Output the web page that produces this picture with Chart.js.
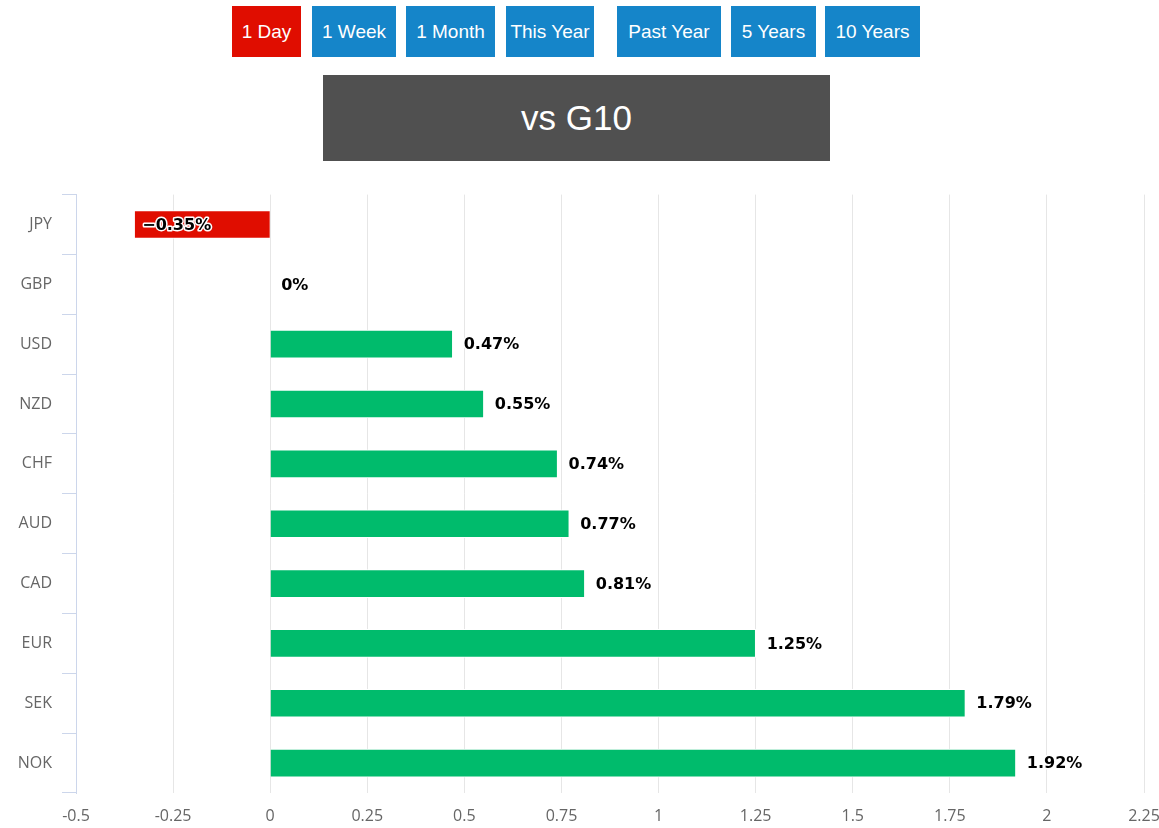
<!DOCTYPE html>
<html>
<head>
<meta charset="utf-8">
<script src="https://cdn.jsdelivr.net/npm/chart.js@4"></script>
<style>
  body { margin: 0; background: #fff; width: 1159px; height: 828px; overflow: hidden; position: relative; }
  .btn { position: absolute; top: 6px; height: 51px; line-height: 51px; color: #fff; background: #1585c9;
         font-family: "Liberation Sans", Arial, sans-serif; font-size: 19px; text-align: center; }
  .btn.on { background: #e00d00; }
  #title { position: absolute; left: 323px; top: 75px; width: 507px; height: 86px; line-height: 86px;
           background: #505050; color: #fff; text-align: center;
           font-family: "Liberation Sans", Arial, sans-serif; font-size: 35px; }
  #wrap { position: absolute; left: 0; top: 175px; width: 1159px; height: 653px; }
</style>
</head>
<body>
<div class="btn on" style="left:232px;width:69px">1 Day</div>
<div class="btn" style="left:312px;width:84px">1 Week</div>
<div class="btn" style="left:406px;width:89px">1 Month</div>
<div class="btn" style="left:506px;width:88px">This Year</div>
<div class="btn" style="left:617px;width:104px">Past Year</div>
<div class="btn" style="left:731px;width:85px">5 Years</div>
<div class="btn" style="left:825px;width:95px">10 Years</div>
<div id="title">vs G10</div>
<div id="wrap"><canvas id="fxChart"></canvas></div>
<script>
var currencies = ['JPY', 'GBP', 'USD', 'NZD', 'CHF', 'AUD', 'CAD', 'EUR', 'SEK', 'NOK'];
var changes    = [-0.35, 0, 0.47, 0.55, 0.74, 0.77, 0.81, 1.25, 1.79, 1.92];
var axisMin = -0.5, axisMax = 2.25, axisStep = 0.25;

var barColors = changes.map(function(v) { return v < 0 ? '#e00d00' : '#00bb6c'; });

// value labels drawn next to (or inside, for negatives) each bar
var valueLabels = {
  id: 'valueLabels',
  afterDatasetsDraw: function(chart) {
    var c = chart.ctx;
    var meta = chart.getDatasetMeta(0);
    c.save();
    c.font = 'bold 16px "DejaVu Sans", Verdana, sans-serif';
    c.textBaseline = 'middle';
    c.textAlign = 'left';
    c.lineJoin = 'round';
    meta.data.forEach(function(bar, i) {
      var v = changes[i];
      var txt = (v < 0 ? '\u2212' + Math.abs(v) : String(v)) + '%';
      var x = v < 0 ? bar.x + 8 : bar.x + 11;
      var y = bar.y + 1;
      c.lineWidth = 3;
      c.strokeStyle = '#ffffff';
      c.strokeText(txt, x, y);
      c.fillStyle = '#000000';
      c.fillText(txt, x, y);
    });
    c.restore();
  }
};

var fxChart = new Chart(document.getElementById('fxChart'), {
  type: 'bar',
  data: {
    labels: currencies,
    datasets: [{
      data: changes,
      backgroundColor: barColors,
      borderColor: '#ffffff',
      borderWidth: 1,
      barThickness: 28
    }]
  },
  options: {
    indexAxis: 'y',
    responsive: true,
    maintainAspectRatio: false,
    animation: false,
    layout: { padding: { top: 18, right: 15, left: 0, bottom: 0 } },
    plugins: { legend: { display: false }, tooltip: { enabled: false } },
    scales: {
      x: {
        min: axisMin,
        max: axisMax,
        afterFit: function(s) { s.height = 35; s.paddingLeft = 0; s.paddingRight = 0; },
        border: { display: false },
        grid: { color: '#e6e6e6', drawTicks: false },
        ticks: {
          stepSize: axisStep,
          padding: 14,
          color: '#666666',
          font: { family: '"Open Sans", sans-serif', size: 16 },
          callback: function(v) { return String(v); }
        }
      },
      y: {
        afterFit: function(s) { s.width = 76; },
        border: { display: true, color: '#ccd6eb', width: 1 },
        grid: { drawOnChartArea: false, offset: true, tickLength: 14, color: '#ccd6eb' },
        ticks: {
          padding: 10,
          color: '#666666',
          font: { family: '"Open Sans", sans-serif', size: 16 }
        }
      }
    }
  },
  plugins: [valueLabels]
});
</script>
</body>
</html>
